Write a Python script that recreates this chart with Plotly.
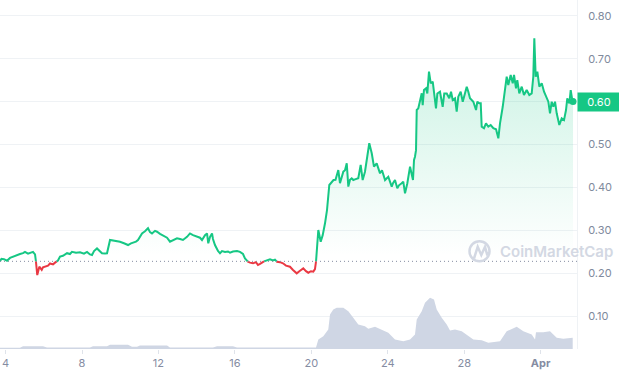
import pandas as pd
import plotly.graph_objects as go

# ---------------- data ----------------
period_start = "2023-03-03 17:00"

# hours since period start, and price (USD)
price_hours = [
    0, 1.9, 5.0, 8.8, 12.6, 16.3, 21.4, 25.1, 28.9, 31.4, 35.2, 37.7, 41.4, 44.0, 45.2, 46.8, 49.4, 52.4, 54.0, 56.5,
    60.3, 62.8, 66.6, 69.1, 72.8, 75.4, 79.1, 84.2, 87.9, 90.4, 95.5, 100.5, 105.5, 109.3, 113.0, 115.6, 118.1, 121.8,
    125.6, 128.1, 131.9, 134.4, 138.2, 141.9, 147.0, 150.7, 155.7, 160.8, 164.5, 167.0, 170.8, 173.3, 178.4, 182.1,
    185.9, 188.4, 190.9, 194.7, 197.2, 201.0, 204.7, 209.8, 213.5, 218.5, 222.3, 226.1, 229.8, 234.9, 238.6, 242.4,
    247.4, 251.2, 253.7, 257.5, 260.0, 261.6, 263.8, 266.3, 267.5, 270.0, 273.8, 276.3, 278.8, 282.6, 286.4, 288.9,
    292.6, 297.7, 301.4, 305.2, 307.7, 311.5, 314.0, 317.8, 321.5, 324.0, 326.6, 330.3, 334.1, 339.1, 342.9, 345.4,
    347.9, 351.7, 355.4, 359.2, 364.2, 368.0, 372.7, 376.8, 380.9, 384.3, 387.2, 390.6, 393.5, 395.6, 396.9,
    399.8, 402.8, 405.3, 408.2, 410.7, 413.6, 416.6, 418.9, 421.4, 424.9, 427.0, 428.9, 431.2, 433.3, 435.5, 437.5,
    439.6, 441.7, 443.7, 445.9, 450.0, 453.0, 455.5, 458.4, 460.6, 462.2, 463.8, 466.9, 469.7, 473.1, 474.8, 477.3,
    479.8, 483.6, 487.7, 489.8, 492.0, 493.6, 496.1, 499.0, 501.1, 504.5, 506.5, 508.7, 511.6, 515.0, 516.8, 518.7,
    520.0, 521.2, 522.5, 523.4,
    525.4, 527.5, 529.7, 530.9, 532.5, 535.1, 536.7, 538.8, 541.0, 543.5, 545.1, 547.6, 549.3, 552.6, 556.0, 558.0,
    561.1, 564.3, 566.5, 568.6, 571.5, 573.6, 575.6, 578.6, 581.2, 584.0, 586.2, 588.2, 590.3, 594.5, 597.9, 599.5,
    602.0, 603.8, 605.0, 607.9, 610.4, 613.3, 616.3, 619.6, 623.0, 625.9, 628.0,
    631.4, 634.3, 636.4, 638.4, 641.4, 644.0, 645.6, 648.1, 649.7, 652.2, 655.3, 658.1, 661.5, 664.8, 667.8, 669.8,
    671.1, 672.8, 674.9, 677.4, 680.4, 683.3, 685.8, 688.7, 690.8, 692.9, 695.0, 697.1, 699.2, 702.5, 705.5, 708.4,
    710.9, 712.5, 715.1, 716.8, 718.4, 719.7,
]
price = [
    0.228, 0.234, 0.233, 0.2295, 0.236, 0.239, 0.243, 0.245, 0.247, 0.250, 0.246, 0.247, 0.250, 0.244, 0.227, 0.196,
    0.2155, 0.208, 0.214, 0.2155, 0.218, 0.223, 0.221, 0.225, 0.230, 0.239, 0.241, 0.247, 0.245, 0.250, 0.248, 0.249,
    0.246, 0.250, 0.244, 0.2427, 0.252, 0.258, 0.250, 0.2467, 0.246, 0.2467, 0.2777, 0.2767, 0.276, 0.2737, 0.270,
    0.266, 0.270, 0.2714, 0.274, 0.2777, 0.293, 0.298, 0.305, 0.296, 0.293, 0.299, 0.297, 0.292, 0.289, 0.283, 0.2737,
    0.279, 0.2816, 0.280, 0.2777, 0.285, 0.293, 0.289, 0.2853, 0.283, 0.2777, 0.289, 0.293, 0.270, 0.285, 0.293, 0.280,
    0.266, 0.252, 0.2467, 0.252, 0.250, 0.251, 0.248, 0.251, 0.252, 0.250, 0.245, 0.235, 0.227, 0.225, 0.2234, 0.226,
    0.2194, 0.222, 0.227, 0.230, 0.2327, 0.230, 0.232, 0.227, 0.226, 0.2234, 0.218, 0.2155, 0.208, 0.200, 0.206,
    0.2117, 0.205, 0.2015, 0.205, 0.204, 0.210, 0.227,
    0.301, 0.2737, 0.289, 0.3166, 0.3475, 0.4058, 0.4135, 0.4174, 0.418, 0.4407, 0.41, 0.425, 0.4368, 0.440, 0.4563,
    0.402, 0.418, 0.4214, 0.4174, 0.419, 0.4214, 0.4524, 0.4174, 0.4368, 0.468, 0.480, 0.503, 0.4796, 0.4484, 0.4563,
    0.445, 0.433, 0.440, 0.4174, 0.425, 0.415, 0.402, 0.410, 0.4174, 0.398, 0.405, 0.41, 0.4135, 0.3865, 0.41, 0.4484,
    0.432, 0.4174, 0.464, 0.4717, 0.487, 0.5805,
    0.5844, 0.5998, 0.6194, 0.592, 0.627, 0.631, 0.619, 0.6697, 0.6427, 0.6465, 0.623, 0.5844, 0.619, 0.623, 0.588,
    0.619, 0.619, 0.6077, 0.623, 0.6038, 0.6077, 0.5765, 0.6115, 0.623, 0.5998, 0.623, 0.6348, 0.623, 0.6077, 0.5998,
    0.5805, 0.5998, 0.596, 0.596, 0.5416, 0.538, 0.5495, 0.5416, 0.5455, 0.538, 0.5355, 0.5146, 0.5495,
    0.588, 0.627, 0.658, 0.6387, 0.662, 0.6427, 0.662, 0.631, 0.6503, 0.619, 0.6348, 0.6154, 0.627, 0.6154, 0.619,
    0.658, 0.7475, 0.658, 0.6697, 0.6348, 0.6427, 0.623, 0.6115, 0.5998, 0.5728, 0.5998, 0.588, 0.5998, 0.5728,
    0.5455, 0.561, 0.557, 0.5805, 0.6077, 0.596, 0.627, 0.608, 0.600,
]

# hours since period start, and traded volume (USD millions)
volume_hours = [
    0, 25.1, 28.9, 54.0, 59.0, 113.0, 116.8, 134.4, 138.2, 160.8, 165.8, 172.1, 175.8, 209.8, 213.5, 267.5, 272.6,
    292.6, 297.7, 342.9, 347.9, 376.8, 396.9, 399.8, 406.1, 412.3, 414.5, 418.6, 422.9, 431.2, 437.5, 443.7, 450.0,
    458.4, 462.6, 471.0, 479.4, 487.7, 496.1, 506.5, 515.0, 521.2, 523.4, 529.7, 533.8, 540.1, 545.1, 548.5, 554.8,
    561.1, 565.2, 571.5, 579.9, 586.2, 594.5, 605.0, 613.3, 628.0, 636.4, 649.0, 657.3, 667.8, 672.0, 673.2, 682.4,
    690.8, 699.2, 707.5, 719.3,
]
volume = [
    2.4, 2.4, 5.6, 5.6, 3, 3, 5.6, 5.6, 8.4, 8.4, 4.4, 4.4, 7, 7, 3, 3, 5.6, 5.6, 3, 3, 3.6, 3, 3, 19, 25.6, 39, 69,
    79, 82.4, 82.4, 75.6, 62.4, 49, 45.6, 40.4, 44.4, 39, 32.4, 19, 15.6, 19, 29, 59, 75.6, 92.4, 102.4, 99, 79, 62.4,
    49, 37, 39, 35.6, 29, 19, 17.6, 12.4, 15.6, 35.6, 44.4, 35.6, 29, 19, 33.6, 33.6, 35.6, 22.4, 20.4, 22.4,
]

tick_dates = ["2023-03-04", "2023-03-08", "2023-03-12", "2023-03-16", "2023-03-20", "2023-03-24", "2023-03-28",
              "2023-04-01"]
tick_labels = ["4", "8", "12", "16", "20", "24", "28", "<b>Apr</b>"]
price_ticks = [0.10, 0.20, 0.30, 0.40, 0.50, 0.60, 0.70, 0.80]

# ---------------- styling / build ----------------
GREEN = "#16c784"
RED = "#ea3943"
GRID = "#eff2f5"
LABEL = "#808a9d"
WM = "#d3d8e3"
FONT = "Inter"

t0 = pd.Timestamp(period_start)
times = [t0 + pd.Timedelta(hours=h) for h in price_hours]
vtimes = [t0 + pd.Timedelta(hours=h) for h in volume_hours]
base = price[0]

# insert baseline crossings so the line can change colour exactly there
dt, dp = [times[0]], [price[0]]
for i in range(1, len(price)):
    a, b = price[i - 1], price[i]
    if (a - base) * (b - base) < 0:
        f = (base - a) / (b - a)
        dt.append(times[i - 1] + (times[i] - times[i - 1]) * f)
        dp.append(base)
    dt.append(times[i])
    dp.append(b)
green_y = [p if p >= base else None for p in dp]
red_y = [p if p <= base else None for p in dp]

fig = go.Figure()
fig.add_trace(go.Scatter(x=vtimes, y=volume, yaxis="y", mode="lines", line=dict(width=0),
                         fill="tozeroy", fillcolor="#cfd6e4", hoverinfo="skip"))
fig.add_trace(go.Scatter(x=dt, y=[base] * len(dt), yaxis="y2", mode="lines", line=dict(width=0),
                         hoverinfo="skip"))
fig.add_trace(go.Scatter(x=dt, y=dp, yaxis="y2", mode="lines", line=dict(width=0), fill="tonexty",
                         fillgradient=dict(type="vertical",
                                           colorscale=[[0, "rgba(22,199,132,0)"], [1, "rgba(22,199,132,0.26)"]],
                                           start=0.24, stop=0.80),
                         hoverinfo="skip"))
fig.add_trace(go.Scatter(x=dt, y=green_y, yaxis="y2", mode="lines", line=dict(color=GREEN, width=2),
                         connectgaps=False, hoverinfo="skip"))
fig.add_trace(go.Scatter(x=dt, y=red_y, yaxis="y2", mode="lines", line=dict(color=RED, width=2),
                         connectgaps=False, hoverinfo="skip"))
fig.add_trace(go.Scatter(x=[times[-1]], y=[price[-1]], yaxis="y2", mode="markers",
                         marker=dict(color=GREEN, size=7), hoverinfo="skip"))

W_PLOT, H_PLOT = 577, 349


def px(x):
    return x / W_PLOT


def py(y):
    return 1 - y / H_PLOT


shapes = [
    dict(type="line", xref="paper", x0=0, x1=1, yref="y2", y0=base, y1=base,
         line=dict(color="#858ca2", width=1, dash="1px,3px")),
    dict(type="circle", xref="paper", yref="paper", x0=px(469.5), x1=px(489.5), y0=py(261.3), y1=py(241.3),
         line=dict(color=WM, width=2.5)),
    dict(type="path", xref="paper", yref="paper",
         path=f"M {px(474)} {py(258.5)} L {px(477.7)} {py(246.8)} L {px(481.3)} {py(255)} "
              f"L {px(485)} {py(246.8)} L {px(487)} {py(254)} L {px(489.5)} {py(252.5)}",
         line=dict(color=WM, width=2.5)),
]

annotations = [
    dict(xref="paper", yref="paper", x=px(498), y=py(251.3), xanchor="left", yanchor="middle",
         text="CoinMarketCap", showarrow=False, font=dict(family=FONT, size=15, color=WM, weight=600)),
    dict(xref="paper", yref="y2", x=1, y=price[-1], xanchor="left", yanchor="middle",
         text=f"{price[-1]:.2f}", showarrow=False, bgcolor=GREEN, width=38, height=14, borderpad=2,
         align="center", font=dict(family=FONT, size=11, color="white")),
]

fig.update_layout(
    width=619, height=376,
    margin=dict(l=0, r=42, t=0, b=27),
    paper_bgcolor="white", plot_bgcolor="white",
    showlegend=False,
    hovermode=False,
    font=dict(family=FONT, size=11, color=LABEL),
    xaxis=dict(type="date", range=[t0, t0 + pd.Timedelta(hours=724.7)],
               tickvals=tick_dates, ticktext=tick_labels,
               ticks="outside", ticklen=4, tickcolor="#dfe3ea", showgrid=False, zeroline=False, showline=False,
               tickfont=dict(family=FONT, size=11, color="#858ca2")),
    yaxis=dict(range=[0, 698], visible=False, showgrid=False, fixedrange=True),
    yaxis2=dict(overlaying="y", side="right", range=[0.0238, 0.8367], tickvals=price_ticks, tickformat=".2f",
                showgrid=True, gridcolor=GRID, gridwidth=1, zeroline=False, showline=True, linecolor=GRID,
                ticks="", ticklabelstandoff=8, tickfont=dict(family=FONT, size=11, color=LABEL)),
    shapes=shapes,
    annotations=annotations,
)

fig.write_html("out.html", config={"displayModeBar": False},
               post_script="document.body.style.margin='0px';document.body.style.overflow='hidden';")
